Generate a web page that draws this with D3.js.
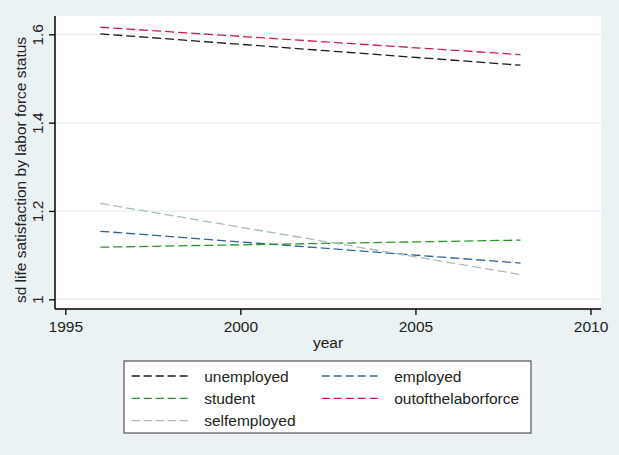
<!DOCTYPE html>
<html><head><meta charset="utf-8">
<script src="https://cdn.jsdelivr.net/npm/d3@7"></script>
<style>body{margin:0;background:#EAF2F3;} svg{display:block;font-family:"Liberation Sans",Arial,sans-serif;}</style>
</head><body>
<svg id="c" width="619" height="455"></svg>
<script>
const years = [1996, 2008];
const unemployed = [1.601, 1.530];
const employed = [1.154, 1.082];
const student = [1.118, 1.134];
const outofthelaborforce = [1.616, 1.554];
const selfemployed = [1.217, 1.056];
const seriesNames = ["unemployed","employed","student","outofthelaborforce","selfemployed"];
const seriesColors = ["#1a1a1a","#2f6496","#2a962a","#cc1f47","#a9bdb8"];
const xTicks = [1995, 2000, 2005, 2010];
const yTicks = [1, 1.2, 1.4, 1.6];

const seriesVals = [unemployed, employed, student, outofthelaborforce, selfemployed];
const svg = d3.select("#c");
const L = 55, R = 601, T = 16, B = 309;
const x = d3.scaleLinear().domain([1995, 2010]).range([65.3, 590.5]);
const y = d3.scaleLinear().domain([1, 1.6]).range([299.3, 34.3]);

svg.append("rect").attr("width",619).attr("height",455).attr("fill","#EAF2F3");
svg.append("rect").attr("x",L).attr("y",T).attr("width",R-L).attr("height",B-T).attr("fill","#fff");

// gridlines
svg.append("g").selectAll("line").data(yTicks).join("line")
  .attr("x1",L).attr("x2",R).attr("y1",d=>y(d)).attr("y2",d=>y(d))
  .attr("stroke","#EAF2F3").attr("stroke-width",1.5);

// series
const line = d3.line().x((d,i)=>x(years[i])).y(d=>y(d));
seriesVals.forEach((v,i)=>{
  svg.append("path").attr("d",line(v)).attr("fill","none")
    .attr("stroke",seriesColors[i]).attr("stroke-width",1.3)
    .attr("stroke-dasharray","9,4");
});

// axes
const fs = 15.5;
const xAxis = d3.axisBottom(x).tickValues(xTicks).tickFormat(d3.format("d")).tickSize(6).tickPadding(5);
const gx = svg.append("g").attr("transform",`translate(0,${B})`).call(xAxis);
gx.select(".domain").attr("d",`M${L},0H${R}`).attr("stroke","#000").attr("stroke-width",1.5);
gx.selectAll(".tick line").attr("stroke","#000").attr("stroke-width",1.3);
gx.selectAll(".tick text").attr("font-size",fs).attr("fill","#222").attr("font-family","Liberation Sans, Arial, sans-serif").attr("y",12);

const yAxis = d3.axisLeft(y).tickValues(yTicks).tickFormat(d=>d3.format("")(d)).tickSize(6);
const gy = svg.append("g").attr("transform",`translate(${L},0)`).call(yAxis);
gy.select(".domain").attr("d",`M0,${T}V${B}`).attr("stroke","#000").attr("stroke-width",1.5);
gy.selectAll(".tick line").attr("stroke","#000").attr("stroke-width",1.3);
gy.selectAll(".tick text").attr("font-size",fs).attr("fill","#222").attr("font-family","Liberation Sans, Arial, sans-serif")
  .attr("x",null).attr("dy",null).attr("text-anchor","middle")
  .attr("transform","translate(-12,0) rotate(-90)");

// axis titles
svg.append("text").attr("x",328).attr("y",348).attr("text-anchor","middle")
  .attr("font-size",fs).attr("fill","#222").text("year");
svg.append("text").attr("transform","translate(26,170) rotate(-90)").attr("text-anchor","middle")
  .attr("font-size",fs).attr("fill","#222").text("sd life satisfaction by labor force status");

// legend
svg.append("rect").attr("x",124).attr("y",361).attr("width",407).attr("height",72)
  .attr("fill","#fff").attr("stroke","#333").attr("stroke-width",1);
const legPos = [[0,0],[1,0],[0,1],[1,1],[0,2]];
seriesNames.forEach((n,i)=>{
  const [c,r] = legPos[i];
  const lx = c===0 ? 131.7 : 321.7;
  const ly = 376 + r*22.3;
  svg.append("line").attr("x1",lx).attr("x2",lx+58).attr("y1",ly).attr("y2",ly)
    .attr("stroke",seriesColors[i]).attr("stroke-width",1.3).attr("stroke-dasharray","8,4");
  svg.append("text").attr("x",lx+72.5).attr("y",ly+5.5).attr("font-size",fs).attr("fill","#222").text(n);
});
</script>
</body></html>
